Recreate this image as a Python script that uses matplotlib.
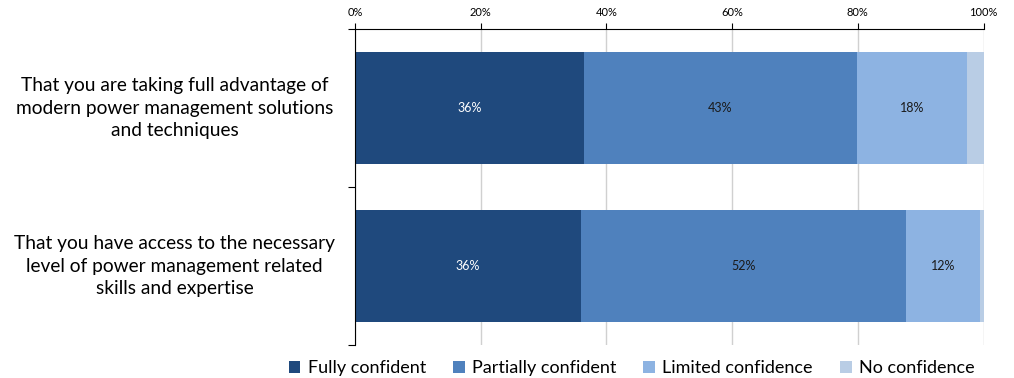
import numpy as np
import matplotlib.pyplot as plt
from matplotlib.ticker import PercentFormatter

plt.rcParams['font.family'] = ['Lato', 'DejaVu Sans']

questions = ["That you are taking full advantage of\nmodern power management solutions\nand techniques",
             "That you have access to the necessary\nlevel of power management related\nskills and expertise"]
series = ["Fully confident", "Partially confident", "Limited confidence", "No confidence"]
fully = [36.4, 35.9]
partially = [43.4, 51.8]
limited = [17.6, 11.8]
none_ = [2.6, 0.5]
colors = ["#1F497D", "#4F81BD", "#8DB3E2", "#B9CDE5"]
text_colors = ["white", "#1a1a1a", "#1a1a1a", "#1a1a1a"]

fig = plt.figure(figsize=(10.14, 3.78), dpi=100)
ax = fig.add_axes([0.350, 0.087, 0.620, 0.836])

y = np.arange(len(questions))
left = np.zeros(len(questions))
for vals, name, c, tc in zip([fully, partially, limited, none_], series, colors, text_colors):
    vals = np.array(vals)
    ax.barh(y, vals, left=left, height=0.71, color=c, label=name, zorder=2)
    for yi, l, v in zip(y, left, vals):
        if v >= 5:
            ax.text(l + v / 2, yi, f"{v:.0f}%", ha='center', va='center', color=tc, fontsize=9)
    left += vals

ax.set_xlim(0, 100)
ax.set_ylim(1.5, -0.5)
ax.xaxis.tick_top()
ax.xaxis.set_major_formatter(PercentFormatter(decimals=0))
ax.set_xticks(np.arange(0, 101, 20))
ax.tick_params(axis='x', labelsize=8, length=4, color='black', pad=4)
ax.grid(axis='x', color='#d0d0d0', lw=1, zorder=0)
ax.set_yticks([-0.5, 0.5, 1.5])
ax.set_yticklabels([])
ax.tick_params(axis='y', length=5, direction='out')
for s in ['right', 'bottom']:
    ax.spines[s].set_visible(False)

for yi, q in zip(y, questions):
    ax.text(-0.287, 1 - (yi + 0.5) / 2, q, transform=ax.transAxes, ha='center', va='center',
            fontsize=13.8, linespacing=1.4)

ax.legend(loc='lower center', bbox_to_anchor=(0.44, -0.15), ncol=4, frameon=False,
          fontsize=13, handlelength=0.65, handleheight=0.65, handletextpad=0.4, columnspacing=1.5)

plt.savefig("out.png")
